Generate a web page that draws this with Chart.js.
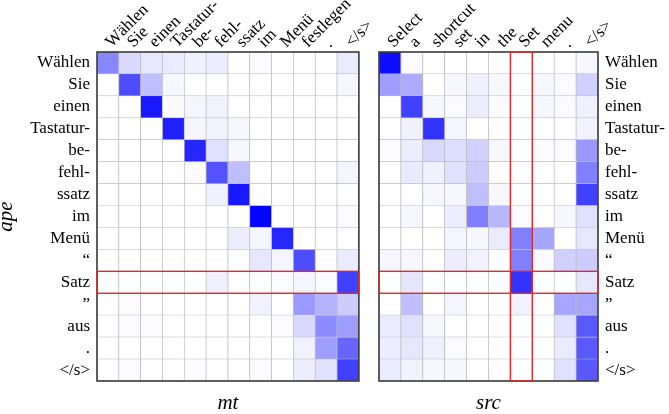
<!DOCTYPE html>
<html>
<head>
<meta charset="utf-8">
<script src="https://cdn.jsdelivr.net/npm/chart.js@4.4.1/dist/chart.umd.min.js"></script>
<style>
    body { margin: 0; background: #fff; }
    #wrap { position: relative; width: 669px; height: 414px; }
    canvas { position: absolute; top: 0; }
</style>
</head>
<body>
<div id="wrap">
    <canvas id="mtChart" width="370" height="414" style="left:0"></canvas>
    <canvas id="srcChart" width="299" height="414" style="left:370px"></canvas>
</div>
<script>
// tokens
const apeTokens = ['Wählen', 'Sie', 'einen', 'Tastatur-', 'be-', 'fehl-', 'ssatz', 'im', 'Menü', '“', 'Satz', '”', 'aus', '.', '</s>'];
const mtTokens = ['Wählen', 'Sie', 'einen', 'Tastatur-', 'be-', 'fehl-', 'ssatz', 'im', 'Menü', 'festlegen', '.', '</s>'];
const srcTokens = ['Select', 'a', 'shortcut', 'set', 'in', 'the', 'Set', 'menu', '.', '</s>'];

// attention weights, one row per ape token
const mtAttention = [
    [0.47, 0.15, 0.10, 0.08, 0.06, 0.07, 0.00, 0.02, 0.00, 0.00, 0.00, 0.08],
    [0.00, 0.70, 0.25, 0.03, 0.00, 0.00, 0.00, 0.00, 0.00, 0.00, 0.00, 0.03],
    [0.00, 0.00, 0.90, 0.02, 0.04, 0.05, 0.00, 0.00, 0.00, 0.00, 0.00, 0.00],
    [0.00, 0.00, 0.00, 0.88, 0.04, 0.05, 0.03, 0.00, 0.00, 0.00, 0.00, 0.00],
    [0.00, 0.00, 0.00, 0.00, 0.85, 0.12, 0.03, 0.00, 0.00, 0.00, 0.00, 0.00],
    [0.00, 0.00, 0.00, 0.00, 0.02, 0.68, 0.25, 0.00, 0.00, 0.00, 0.00, 0.04],
    [0.00, 0.00, 0.00, 0.00, 0.00, 0.06, 0.90, 0.00, 0.00, 0.00, 0.00, 0.00],
    [0.00, 0.00, 0.00, 0.00, 0.00, 0.00, 0.00, 0.99, 0.00, 0.00, 0.00, 0.02],
    [0.00, 0.00, 0.00, 0.00, 0.00, 0.00, 0.07, 0.04, 0.85, 0.00, 0.00, 0.00],
    [0.00, 0.00, 0.00, 0.00, 0.00, 0.00, 0.00, 0.10, 0.04, 0.70, 0.00, 0.08],
    [0.00, 0.00, 0.00, 0.00, 0.00, 0.06, 0.00, 0.00, 0.02, 0.04, 0.02, 0.75],
    [0.00, 0.01, 0.00, 0.00, 0.00, 0.00, 0.00, 0.05, 0.00, 0.40, 0.30, 0.20],
    [0.00, 0.01, 0.01, 0.00, 0.00, 0.00, 0.00, 0.00, 0.02, 0.15, 0.45, 0.38],
    [0.00, 0.00, 0.00, 0.00, 0.00, 0.00, 0.00, 0.00, 0.00, 0.05, 0.38, 0.60],
    [0.00, 0.02, 0.00, 0.00, 0.01, 0.00, 0.00, 0.02, 0.00, 0.07, 0.12, 0.75]
];
const srcAttention = [
    [0.95, 0.02, 0.00, 0.00, 0.00, 0.00, 0.00, 0.00, 0.00, 0.03],
    [0.38, 0.33, 0.00, 0.03, 0.06, 0.03, 0.00, 0.03, 0.02, 0.18],
    [0.00, 0.75, 0.03, 0.02, 0.07, 0.02, 0.00, 0.03, 0.02, 0.06],
    [0.00, 0.06, 0.80, 0.04, 0.00, 0.00, 0.00, 0.00, 0.00, 0.05],
    [0.02, 0.07, 0.15, 0.13, 0.18, 0.03, 0.00, 0.02, 0.02, 0.40],
    [0.00, 0.08, 0.06, 0.12, 0.20, 0.00, 0.00, 0.00, 0.00, 0.50],
    [0.00, 0.00, 0.03, 0.03, 0.25, 0.03, 0.00, 0.00, 0.00, 0.75],
    [0.00, 0.03, 0.00, 0.07, 0.50, 0.28, 0.02, 0.00, 0.03, 0.12],
    [0.00, 0.00, 0.00, 0.04, 0.03, 0.08, 0.50, 0.35, 0.00, 0.10],
    [0.03, 0.03, 0.00, 0.07, 0.05, 0.00, 0.50, 0.02, 0.18, 0.20],
    [0.00, 0.10, 0.00, 0.00, 0.00, 0.00, 0.80, 0.00, 0.00, 0.10],
    [0.00, 0.25, 0.00, 0.04, 0.00, 0.00, 0.05, 0.00, 0.35, 0.35],
    [0.08, 0.12, 0.03, 0.00, 0.00, 0.00, 0.00, 0.00, 0.12, 0.65],
    [0.07, 0.10, 0.06, 0.02, 0.00, 0.00, 0.00, 0.00, 0.08, 0.65],
    [0.08, 0.05, 0.03, 0.03, 0.00, 0.00, 0.00, 0.00, 0.12, 0.65]
];

// highlighted row / column (red boxes)
const mtHighlightRows = [10];
const srcHighlightRows = [10];
const srcHighlightCols = [6];

const serif = "'Liberation Serif', 'Times New Roman', serif";

function blue(v) {
    let c = Math.round(255 * (1 - v));
    return 'rgb(' + c + ',' + c + ',255)';
}

// one stacked dataset per ape row, each cell is one unit tall
function makeDatasets(matrix) {
    return matrix.map((row, r) => ({
        label: apeTokens[r],
        data: row.map(() => 1),
        backgroundColor: row.map(v => blue(v)),
        borderColor: '#bcbcbc',
        borderWidth: 0.7,
        barPercentage: 1,
        categoryPercentage: 1
    }));
}

// frame + red highlight boxes
function framePlugin(rows, cols) {
    return {
        id: 'frame',
        afterDatasetsDraw(chart) {
            let ctx = chart.ctx;
            let a = chart.chartArea;
            let ys = chart.scales.y;
            let xs = chart.scales.x;
            ctx.save();
            ctx.strokeStyle = '#3a3a3a';
            ctx.lineWidth = 1.6;
            ctx.strokeRect(a.left, a.top, a.right - a.left, a.bottom - a.top);
            ctx.strokeStyle = '#e0282a';
            ctx.lineWidth = 1.4;
            rows.forEach(r => {
                let y0 = ys.getPixelForValue(r);
                let y1 = ys.getPixelForValue(r + 1);
                ctx.strokeRect(a.left, y0, a.right - a.left, y1 - y0);
            });
            cols.forEach(c => {
                let half = (xs.getPixelForValue(1) - xs.getPixelForValue(0)) / 2;
                let xc = xs.getPixelForValue(c);
                ctx.strokeRect(xc - half, a.top, 2 * half, a.bottom - a.top);
            });
            ctx.restore();
        }
    };
}

function makeChart(id, cols, matrix, yPos, yWidth, padLeft, padRight, title, rows, hcols) {
    let yScale = {
        type: 'linear',
        position: yPos,
        stacked: true,
        reverse: true,
        min: 0,
        max: apeTokens.length,
        grid: { display: false, drawTicks: false },
        border: { display: false },
        afterBuildTicks: s => { s.ticks = apeTokens.map((t, i) => ({ value: i + 0.5 })); },
        afterFit: s => { s.width = yWidth; },
        ticks: {
            autoSkip: false,
            padding: 7,
            color: '#000',
            font: { family: serif, size: 17 },
            callback: (v, i) => apeTokens[i]
        }
    };
    if (yPos === 'left') {
        yScale.title = {
            display: true,
            text: 'ape',
            color: '#000',
            padding: { top: -4, bottom: 0 },
            font: { family: serif, size: 21, style: 'italic', lineHeight: 1 }
        };
    }

    return new Chart(document.getElementById(id), {
        type: 'bar',
        data: { labels: cols, datasets: makeDatasets(matrix) },
        options: {
            responsive: false,
            animation: false,
            devicePixelRatio: 1,
            layout: { padding: { left: padLeft, right: padRight, top: 0, bottom: 0 } },
            plugins: { legend: { display: false }, tooltip: { enabled: false } },
            scales: {
                x: {
                    type: 'category',
                    position: 'top',
                    stacked: true,
                    grid: { display: false, drawTicks: false },
                    border: { display: false },
                    afterFit: s => { s.height = 52; },
                    ticks: {
                        autoSkip: false,
                        minRotation: 45,
                        maxRotation: 45,
                        padding: 0,
                        labelOffset: 15,
                        color: '#000',
                        font: { family: serif, size: 17 }
                    }
                },
                xb: {
                    type: 'linear',
                    position: 'bottom',
                    min: 0,
                    max: 1,
                    grid: { display: false, drawTicks: false },
                    border: { display: false },
                    ticks: { display: false },
                    afterFit: s => { s.height = 33; },
                    title: {
                        display: true,
                        text: title,
                        color: '#000',
                        padding: 0,
                        font: { family: serif, size: 21, style: 'italic', lineHeight: 1 }
                    }
                },
                y: yScale
            }
        },
        plugins: [framePlugin(rows, hcols)]
    });
}

makeChart('mtChart', mtTokens, mtAttention, 'left', 97, 0, 11, 'mt', mtHighlightRows, []);
makeChart('srcChart', srcTokens, srcAttention, 'right', 71, 9, 0, 'src', srcHighlightRows, srcHighlightCols);
</script>
</body>
</html>
